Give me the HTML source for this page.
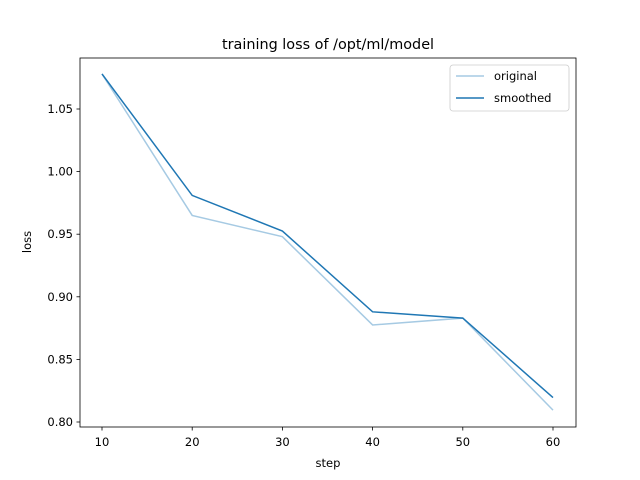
<!DOCTYPE html>
<html><head><meta charset="utf-8"><style>body{margin:0;background:#fff}svg{display:block;font-family:"DejaVu Sans","Liberation Sans",sans-serif}</style></head>
<body>
<svg id="chart" width="640" height="480">
<rect x="0" y="0" width="640" height="480" fill="#fff"/>
<text x="328" y="49" font-size="14.4" text-anchor="middle">training loss of /opt/ml/model</text>
<g id="axes"></g>
<rect x="80" y="58" width="496" height="369" fill="none" stroke="#000" stroke-width="0.8"/>
<text x="328" y="467" font-size="11.5" text-anchor="middle">step</text>
<text x="31" y="242" font-size="11.5" text-anchor="middle" transform="rotate(-90 31 242)">loss</text>
<g>
<rect x="450" y="65" width="119" height="46" rx="3" fill="#fff" stroke="#ccc" stroke-width="0.8"/>
<line x1="456" y1="76" x2="484" y2="76" stroke="#a6cae3" stroke-width="1.5"/>
<text x="494" y="80" font-size="11.5">original</text>
<line x1="456" y1="98" x2="484" y2="98" stroke="#1f77b4" stroke-width="1.5"/>
<text x="494" y="102" font-size="11.5">smoothed</text>
</g>
</svg>
<script>
const steps=[10,20,30,40,50,60];
const original=[1.078,0.965,0.948,0.8775,0.883,0.8095];
const smoothed=[1.078,0.981,0.9525,0.888,0.883,0.8195];
const xTicks=[10,20,30,40,50,60];
const yTicks=[0.80,0.85,0.90,0.95,1.00,1.05];
const X=v=>102+(v-10)*9.02;
const Y=v=>422-(v-0.8)*1252;
const ns="http://www.w3.org/2000/svg";
const g=document.getElementById('axes');
function mk(t,a){const e=document.createElementNS(ns,t);for(const k in a)e.setAttribute(k,a[k]);g.appendChild(e);return e;}
xTicks.forEach(v=>{
 const l=mk('line',{x1:X(v),x2:X(v),y1:427,y2:430.5,stroke:'#000','stroke-width':0.8});
 
 
 const t=mk('text',{x:X(v),y:446,'font-size':11.5,'text-anchor':'middle'});t.textContent=v;
 
 
});
yTicks.forEach(v=>{
 const l=mk('line',{x1:76.5,x2:80,y1:Y(v),y2:Y(v),stroke:'#000','stroke-width':0.8});
 
 
 const t=mk('text',{x:73,y:Y(v)+4,'font-size':11.5,'text-anchor':'end'});t.textContent=v.toFixed(2);
 
 
});
const p1=mk('polyline',{points:steps.map((s,i)=>X(s)+','+Y(original[i])).join(' '),fill:'none',stroke:'#a6cae3','stroke-width':1.5});


const p2=mk('polyline',{points:steps.map((s,i)=>X(s)+','+Y(smoothed[i])).join(' '),fill:'none',stroke:'#1f77b4','stroke-width':1.5});


</script>
</body></html>
